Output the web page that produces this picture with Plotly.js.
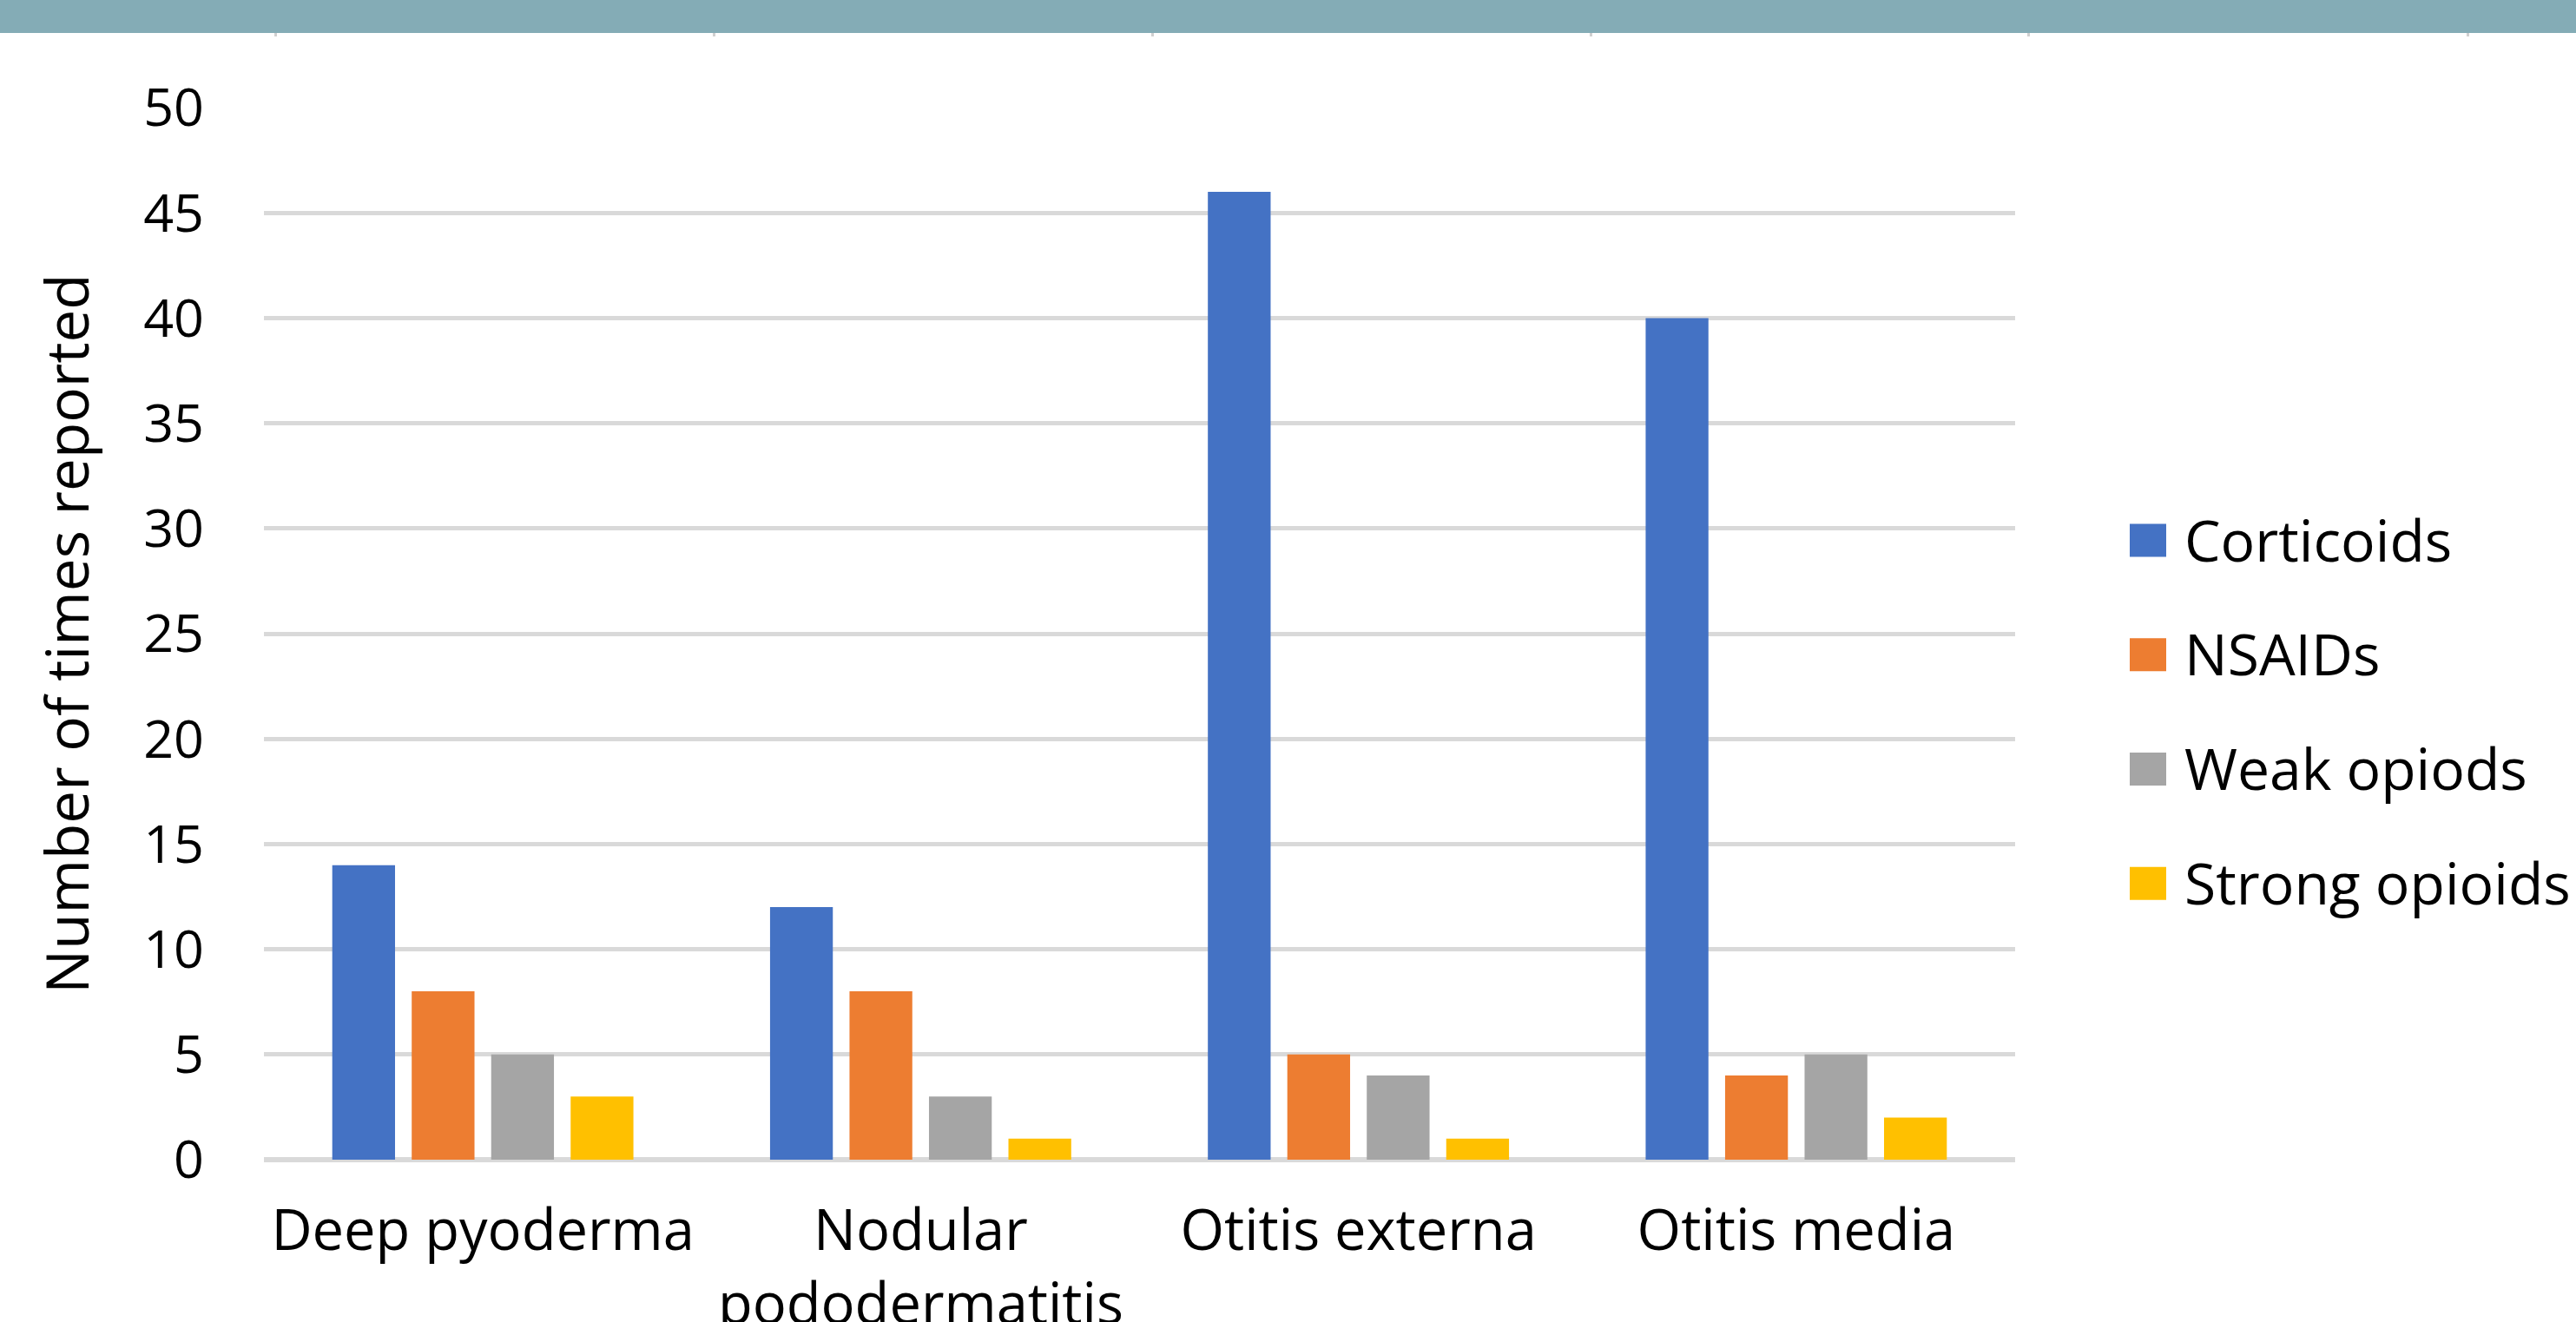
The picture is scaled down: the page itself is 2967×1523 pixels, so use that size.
<!DOCTYPE html>
<html>
<head>
<meta charset="utf-8">
<script src="https://cdn.plot.ly/plotly-3.0.1.min.js"></script>
<style>
  html, body { margin: 0; padding: 0; background: #ffffff; }
  #wrap { position: relative; width: 2967px; height: 1523px; overflow: hidden; }
  #chart { position: absolute; left: 0; top: 0; width: 2967px; height: 1523px; }
  #band { position: absolute; left: 0; top: 0; width: 2967px; height: 38px; background: #84ACB6; z-index: 5; }
  .tk { position: absolute; top: 38px; width: 3px; height: 4px; background: #D0D0D0; z-index: 5; }
</style>
</head>
<body>
<div id="wrap">
  <div id="chart"></div>
  <div id="band"></div>
</div>
<script>
// ---- data ----
const categories = ["Deep pyoderma", "Nodular<br>pododermatitis", "Otitis externa", "Otitis media"];
const seriesNames = ["Corticoids", "NSAIDs", "Weak opiods", "Strong opioids"];
const corticoids = [14, 12, 46, 40];
const nsaids = [8, 8, 5, 4];
const weakOpiods = [5, 3, 4, 5];
const strongOpioids = [3, 1, 1, 2];
const yTicks = [0, 5, 10, 15, 20, 25, 30, 35, 40, 45, 50];

// ---- styling ----
const colors = ["#4472C4", "#ED7D31", "#A5A5A5", "#FFC000"];
const seriesValues = [corticoids, nsaids, weakOpiods, strongOpioids];
const FONT = "'Open Sans', 'Noto Sans', sans-serif";

const traces = seriesValues.map((vals, i) => ({
  type: "bar",
  name: seriesNames[i],
  x: categories,
  y: vals,
  legendgroup: "g" + i,
  marker: { color: colors[i], line: { width: 0 } },
  hoverinfo: "skip"
}));

const W = 2967, H = 1523;
const margin = { l: 304, r: 646, t: 124, b: 187, pad: 0, autoexpand: false };
const plotW = W - margin.l - margin.r;
const plotH = H - margin.t - margin.b;

const layout = {
  width: W,
  height: H,
  margin: margin,
  paper_bgcolor: "#ffffff",
  plot_bgcolor: "#ffffff",
  barmode: "group",
  bargap: 0.274,
  bargroupgap: 0.21,
  font: { family: FONT, color: "#000000", size: 60 },
  xaxis: {
    type: "category",
    showgrid: false,
    showline: false,
    zeroline: false,
    ticks: "",
    tickfont: { family: FONT, size: 65, color: "#000000" },
    ticklabelstandoff: 38,
    automargin: false
  },
  yaxis: {
    range: [0, 50],
    tickvals: yTicks,
    ticktext: yTicks.map(String),
    showgrid: true,
    gridcolor: "#D9D9D9",
    gridwidth: 5,
    zeroline: true,
    zerolinecolor: "#D9D9D9",
    zerolinewidth: 6,
    showline: false,
    ticks: "",
    tickfont: { family: FONT, size: 61, color: "#000000" },
    ticklabelstandoff: 68,
    automargin: false,
    title: {
      text: "Number of times reported",
      font: { family: FONT, size: 67.5, color: "#000000" },
      standoff: 40
    }
  },
  showlegend: true,
  legend: {
    x: (2446 - margin.l) / plotW,
    xanchor: "left",
    y: (1336 - 819) / plotH,
    yanchor: "middle",
    traceorder: "grouped",
    tracegroupgap: 43,
    itemwidth: 60,
    font: { family: FONT, size: 66, color: "#000000" },
    bgcolor: "rgba(0,0,0,0)",
    borderwidth: 0
  }
};

function fixLegendSymbols() {
  document.querySelectorAll(".legend .traces").forEach(tr => {
    const path = tr.querySelector(".legendpoints path");
    const txt = tr.querySelector("text.legendtext");
    if (!path || !txt) return;
    path.removeAttribute("transform");
    const tb = txt.getBoundingClientRect();
    const ctm = path.getScreenCTM();
    if (!ctm) return;
    const inv = ctm.inverse();
    const toLocal = (sx, sy) => {
      const pt = path.ownerSVGElement.createSVGPoint();
      pt.x = sx; pt.y = sy;
      return pt.matrixTransform(inv);
    };
    const cy = tb.top + tb.height * 0.52;
    const right = tb.left - 21;
    const left = right - 42;
    const a = toLocal(left, cy - 19);
    const b = toLocal(right, cy + 19);
    path.setAttribute("d", "M" + a.x + "," + a.y + "H" + b.x + "V" + b.y + "H" + a.x + "Z");
    path.style.strokeWidth = "0px";
  });
}

Plotly.newPlot("chart", traces, layout, { staticPlot: true, displayModeBar: false }).then(fixLegendSymbols);

// decorative tick marks under top band
const tickXs = [317, 822, 1327, 1832, 2336, 2842];
const wrap = document.getElementById("wrap");
tickXs.forEach(x => {
  const d = document.createElement("div");
  d.className = "tk";
  d.style.left = (x - 1) + "px";
  wrap.appendChild(d);
});
</script>
</body>
</html>
